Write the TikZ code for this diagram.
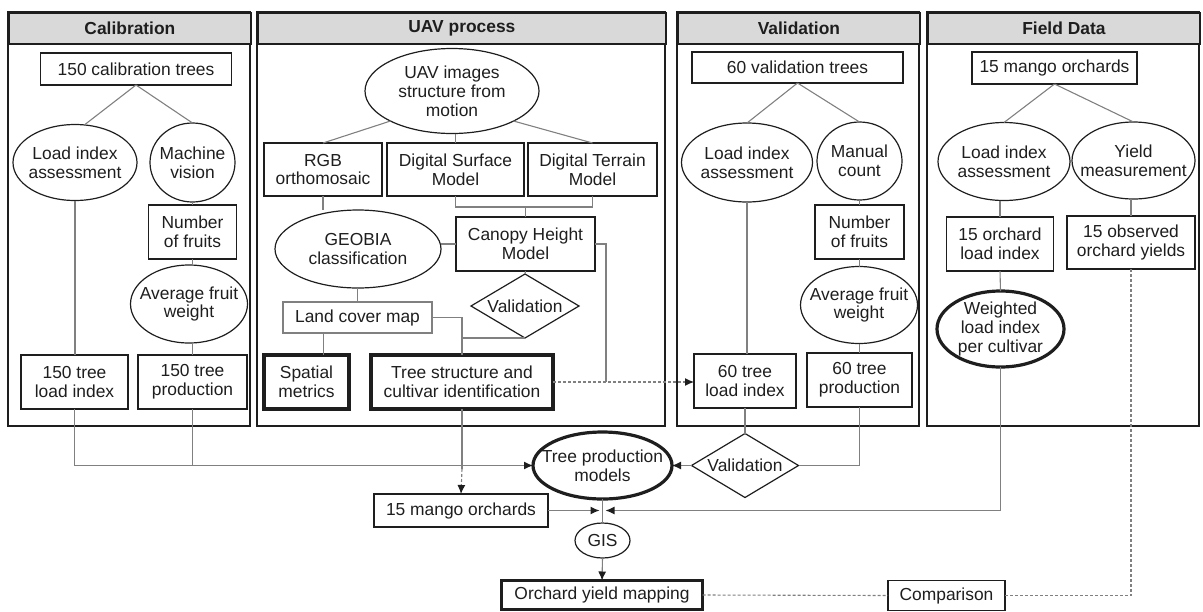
\documentclass[tikz,border=0pt]{standalone}
\usepackage{fontspec}
\setmainfont{Liberation Sans}
\usetikzlibrary{arrows.meta, positioning, shapes.geometric, calc}
\definecolor{lgray}{HTML}{808080}
\definecolor{hgray}{HTML}{D9D9D9}
\definecolor{ink}{HTML}{1E1E1E}
\newcommand{\dfont}{\fontsize{8.7}{9.4}\selectfont}
\tikzset{
  panel/.style={draw=ink, line width=0.9pt},
  head/.style={draw=ink, line width=0.9pt, fill=hgray, font=\dfont\bfseries,
               inner sep=0pt, anchor=north west},
  box/.style={draw=ink, line width=0.6pt, rectangle, align=center, inner sep=0pt, outer sep=0pt},
  tbox/.style={box, line width=1.6pt},
  gbox/.style={box, draw=lgray},
  oval/.style={draw=ink, line width=0.6pt, ellipse, align=center, inner sep=-20pt, outer sep=0pt},
  toval/.style={oval, line width=1.6pt},
  dia/.style={draw=ink, line width=0.6pt, diamond, align=center, inner sep=-6pt, outer sep=0pt},
  conn/.style={draw=lgray, line width=0.55pt},
  arr/.style={conn, -{Latex[length=4.5pt,width=4pt,color=ink]}},
  dots/.style={conn, dash pattern=on 1.5pt off 1pt},
  dotarr/.style={arr, dash pattern=on 1.5pt off 1pt},
}

\begin{document}
\begin{tikzpicture}[x=0.5pt, y=-0.5pt, font=\dfont, text=ink]
  \useasboundingbox (0,0) rectangle (1203,611);

  % panels
  \draw[panel] (8,12) rectangle (250,426);
  \draw[panel] (257,12) rectangle (665,426);
  \draw[panel] (677,12) rectangle (919,426);
  \draw[panel] (927,12) rectangle (1199,426);
  \node[head, minimum width=121pt, minimum height=15.5pt] (hcal) at (8,12) {Calibration};
  \node[head, minimum width=204pt, minimum height=15.5pt] (huav) at (257,12) {UAV process};
  \node[head, minimum width=121pt, minimum height=15.5pt] (hval) at (677,12) {Validation};
  \node[head, minimum width=136pt, minimum height=15.5pt] (hfld) at (927,12) {Field Data};

  % calibration
  \node[box, minimum width=95.5pt, minimum height=16pt] (ct) at (136,69) {150 calibration trees};
  \node[oval, minimum width=62pt, minimum height=38pt] (cla) at (75,162.5) {Load index\\assessment};
  \node[oval, minimum width=42.5pt, minimum height=39.5pt] (cmv) at (192.5,162.5) {Machine\\vision};
  \node[box, minimum width=44pt, minimum height=27pt] (cnf) at (192.5,232) {Number\\of fruits};
  \node[oval, minimum width=58.5pt, minimum height=39pt] (caw) at (189,304) {Average fruit\\weight};
  \node[box, minimum width=53.5pt, minimum height=27pt] (cld) at (74.5,382) {150 tree\\load index};
  \node[box, minimum width=54.5pt, minimum height=27pt] (cpr) at (192.5,382) {150 tree\\production};
  \draw[conn] (ct.south) -- (cla.76);
  \draw[conn] (ct.south) -- (cmv.north);
  \draw[conn] (cla.south) -- (cla.south |- cld.north);
  \draw[conn] (cmv.south) -- (cnf.north);
  \draw[conn] (cnf.south) -- (cnf.south |- caw.north);
  \draw[conn] (cnf.south |- caw.south) -- (cpr.north);

  % uav process
  \node[oval, minimum width=87pt, minimum height=42.5pt] (uimg) at (452,91) {UAV images\\structure from\\motion};
  \node[box, minimum width=59pt, minimum height=26.5pt] (rgb) at (323,169.5) {RGB\\orthomosaic};
  \node[box, minimum width=68.5pt, minimum height=26.5pt] (dsm) at (455.5,169.5) {Digital Surface\\Model};
  \node[box, minimum width=64.5pt, minimum height=26.5pt] (dtm) at (592.5,169.5) {Digital Terrain\\Model};
  \node[oval, minimum width=83pt, minimum height=39pt] (geo) at (358,249) {GEOBIA\\classification};
  \node[box, minimum width=69.5pt, minimum height=27pt] (chm) at (525.5,244) {Canopy Height\\Model};
  \node[dia, minimum width=54pt, minimum height=32pt] (uval) at (525,306) {Validation};
  \node[gbox, minimum width=74.5pt, minimum height=15.5pt] (lcm) at (357.5,317.5) {Land cover map};
  \node[tbox, minimum width=42.5pt, minimum height=27pt] (spm) at (306.5,382) {Spatial\\metrics};
  \node[tbox, minimum width=91pt, minimum height=27pt] (tsc) at (462,382) {Tree structure and\\cultivar identification};
  \coordinate (dsj) at ($(dsm.south)+(0,11)$);
  \coordinate (chj) at ($(chm.east)+(11,0)$);
  \coordinate (lcj) at ($(spm.north)+(17,0)$);
  \draw[conn] (uimg.206) -- (rgb.north);
  \draw[conn] (uimg.south -| dsm.north) -- (dsm.north);
  \draw[conn] (uimg.334) -- (dtm.north);
  \draw[conn] (dsm.south) -- (dsj) -| (dtm.south);
  \draw[conn] (chm.north) -- (chm.north |- dsj);
  \draw[conn] (rgb.south) -- (rgb.south |- geo.north);
  \draw[conn] (chm.west) -- (chm.west -| geo.east);
  \draw[conn] (chm.south) -- (uval.north);
  \draw[conn] (chm.east) -- (chj) -- (chj |- tsc.east);
  \draw[conn] (geo.south -| lcm.north) -- (lcm.north);
  \draw[conn] (lcj |- lcm.south) -- (lcj);
  \draw[conn] (lcm.east) -| (tsc.north);
  \draw[conn] (uval.south) -- (uval.south -| tsc.north);

  % validation
  \node[box, minimum width=105.5pt, minimum height=15.5pt] (vt) at (797.5,67.5) {60 validation trees};
  \node[oval, minimum width=65.5pt, minimum height=39.5pt] (vla) at (747,162.5) {Load index\\assessment};
  \node[oval, minimum width=42.5pt, minimum height=39pt] (vmc) at (859.5,161) {Manual\\count};
  \node[box, minimum width=44.5pt, minimum height=27pt] (vnf) at (859.5,232) {Number\\of fruits};
  \node[oval, minimum width=58.5pt, minimum height=38.5pt] (vaw) at (859,305) {Average fruit\\weight};
  \node[box, minimum width=51pt, minimum height=27pt] (vld) at (745,381) {60 tree\\load index};
  \node[box, minimum width=52.5pt, minimum height=27pt] (vpr) at (859.5,380) {60 tree\\production};
  \draw[conn] (vt.south) -- (vla.north);
  \draw[conn] (vt.south) -- (vmc.north);
  \draw[conn] (vla.south) -- (vla.south |- vld.north);
  \draw[conn] (vmc.south) -- (vnf.north);
  \draw[conn] (vnf.south) -- (vnf.south |- vaw.north);
  \draw[conn] (vnf.south |- vaw.south) -- (vpr.north);

  % field data
  \node[box, minimum width=82.5pt, minimum height=16pt] (ft) at (1054.5,68) {15 mango orchards};
  \node[oval, minimum width=66pt, minimum height=39pt] (fla) at (1004,161.5) {Load index\\assessment};
  \node[oval, minimum width=61.5pt, minimum height=38.5pt] (fym) at (1133.5,160.5) {Yield\\measurement};
  \node[box, minimum width=53.5pt, minimum height=27pt] (fol) at (1000,244) {15 orchard\\load index};
  \node[box, minimum width=64pt, minimum height=26.5pt] (foy) at (1131,242.5) {15 observed\\orchard yields};
  \node[toval, minimum width=63.5pt, minimum height=38pt] (fwl) at (1000.5,329) {Weighted\\load index\\per cultivar};
  \draw[conn] (ft.south) -- (fla.north);
  \draw[conn] (ft.south) -- (fym.north);
  \draw[conn] (fla.south -| fol.north) -- (fol.north);
  \draw[conn] (fym.south -| foy.north) -- (foy.north);
  \draw[conn] (fol.south) -- (fwl.north);

  % models and mapping
  \node[toval, minimum width=69.5pt, minimum height=33.5pt] (tpm) at (602.5,465.5) {Tree production\\models};
  \node[dia, minimum width=53.5pt, minimum height=32pt] (bval) at (745,465.5) {Validation};
  \node[box, minimum width=87pt, minimum height=16.5pt] (mango) at (461,510.5) {15 mango orchards};
  \node[oval, minimum width=27.5pt, minimum height=17.5pt] (gis) at (602.5,540.5) {GIS};
  \node[tbox, minimum width=100.5pt, minimum height=14.5pt] (oym) at (602,595) {Orchard yield mapping};
  \node[box, minimum width=58.5pt, minimum height=15pt] (cmp) at (946.5,595.5) {Comparison};
  \coordinate (tsj) at ($(tsc.south)+(0,60)$);
  \draw[arr] (cld.south) |- (tpm.west);
  \draw[conn] (cpr.south) -- (cpr.south |- tpm.west);
  \draw[conn] (vld.south) -- (bval.north);
  \draw[conn] (vpr.south) |- (bval.east);
  \draw[arr] (bval.west) -- (tpm.east);
  \draw[dotarr] (tsc.east) -- (tsc.east -| vld.west);
  \draw[conn] (tsc.south) -- (tsj);
  \draw[dotarr] (tsj) -- (mango.north);
  \draw[arr, shorten >=1.5pt] (mango.east) -- (mango.east -| tpm.south);
  \draw[arr, shorten >=1.5pt] (fwl.south) |- (mango.east -| tpm.south);
  \draw[conn] (tpm.south) -- (gis.north);
  \draw[arr] (gis.south) -- (oym.north);
  \draw[dots] (oym.east) -- (cmp.west);
  \draw[dots] (cmp.east) -| (foy.south);
\end{tikzpicture}
\end{document}
